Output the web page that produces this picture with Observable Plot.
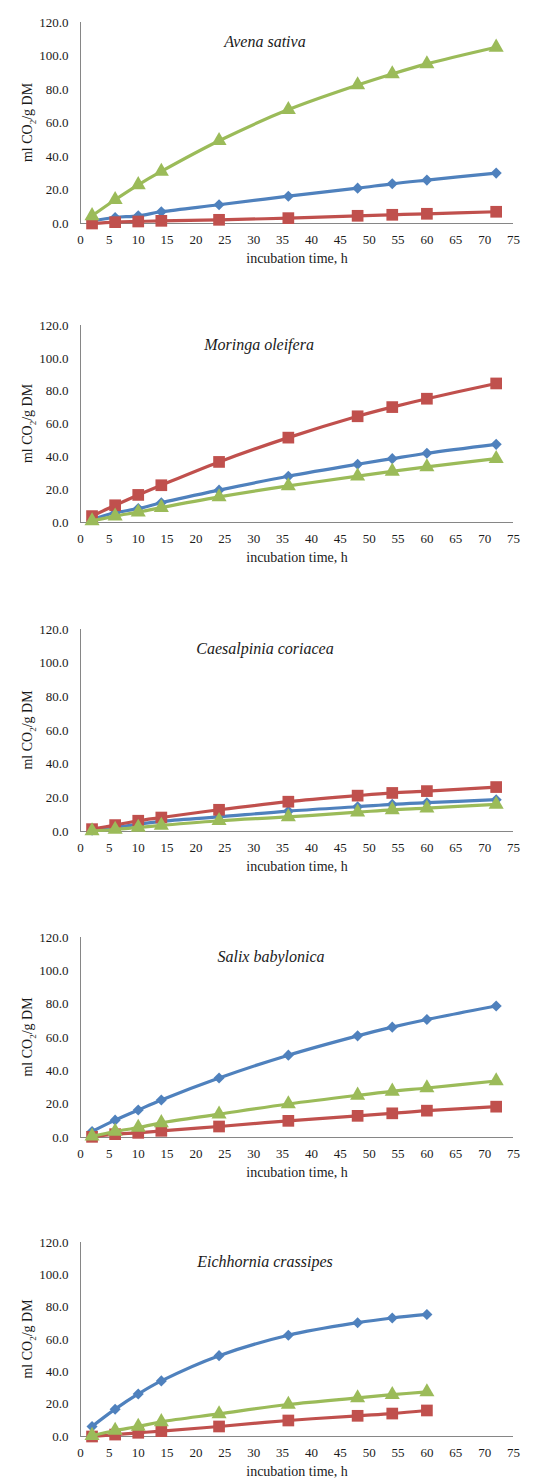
<!DOCTYPE html>
<html>
<head>
<meta charset="utf-8">
<script src="https://cdn.jsdelivr.net/npm/d3@7"></script>
<script src="https://cdn.jsdelivr.net/npm/@observablehq/plot@0.6"></script>
<style>
  html, body { margin: 0; padding: 0; background: #fff; }
  #root { position: relative; width: 556px; height: 1481px; overflow: hidden; background: #fff; }
  .panel { position: absolute; left: 0; }
  .panel svg text { font-family: 'Liberation Serif', 'Times New Roman', serif; }
</style>
</head>
<body>
<div id="root"></div>
<script>
// incubation times (h)
const times = [2, 6, 10, 14, 24, 36, 48, 54, 60, 72];
const timesShort = [2, 6, 10, 14, 24, 36, 48, 54, 60];

const xTicks = [0, 5, 10, 15, 20, 25, 30, 35, 40, 45, 50, 55, 60, 65, 70, 75];
const yTicks = [0, 20, 40, 60, 80, 100, 120];

const speciesNames = ["Avena sativa", "Moringa oleifera", "Caesalpinia coriacea", "Salix babylonica", "Eichhornia crassipes"];

// ml CO2 / g DM — blue (diamond), red (square), green (triangle)
const avenaBlue  = [1.6, 3.6, 4.6, 7.0, 11.2, 16.3, 21.1, 23.7, 25.9, 30.1];
const avenaRed   = [0.0, 0.8, 1.2, 1.6, 2.2, 3.2, 4.6, 5.2, 5.8, 7.0];
const avenaGreen = [4.6, 14.2, 23.1, 31.1, 49.4, 68.0, 82.7, 89.3, 95.3, 105.2];

const moringaBlue  = [1.8, 5.9, 8.5, 12.0, 19.7, 28.2, 35.5, 38.9, 42.2, 47.6];
const moringaRed   = [3.9, 10.5, 16.8, 22.7, 36.9, 51.7, 64.7, 70.3, 75.4, 84.7];
const moringaGreen = [1.0, 3.9, 6.3, 9.1, 15.6, 22.3, 28.2, 31.2, 33.9, 38.9];

const caesalpiniaBlue  = [0.8, 2.4, 4.4, 6.0, 8.7, 12.1, 14.7, 16.1, 17.1, 18.9];
const caesalpiniaRed   = [1.4, 3.8, 6.4, 8.3, 12.9, 17.7, 21.3, 22.9, 24.0, 26.4];
const caesalpiniaGreen = [0.3, 1.2, 2.4, 3.6, 6.4, 8.7, 11.5, 12.9, 13.9, 16.1];

const salixBlue  = [3.6, 10.4, 16.5, 22.5, 35.7, 49.4, 61.0, 66.2, 70.8, 78.9];
const salixRed   = [0.4, 2.0, 2.8, 4.0, 6.6, 10.0, 13.0, 14.5, 16.1, 18.5];
const salixGreen = [0.8, 3.6, 6.0, 8.8, 14.0, 20.1, 25.3, 27.7, 29.7, 33.9];

const eichhorniaBlue  = [6.2, 16.9, 26.3, 34.4, 50.0, 62.6, 70.4, 73.3, 75.5];
const eichhorniaRed   = [0.0, 1.2, 2.3, 3.3, 6.2, 9.9, 12.8, 14.2, 16.1];
const eichhorniaGreen = [0.6, 3.7, 6.2, 9.1, 14.0, 19.8, 23.9, 25.9, 27.6];

const seriesStyle = [
  {color: "#4F81BD", symbol: "diamond2", r: 5.0},
  {color: "#C0504D", symbol: "square", r: 6.6},
  {color: "#9BBB59", symbol: "triangle", r: 5.6}
];

const panels = [
  {title: speciesNames[0], t: times, series: [avenaBlue, avenaRed, avenaGreen], yTop: 22, yBot: 223, titleDx: -32},
  {title: speciesNames[1], t: times, series: [moringaBlue, moringaRed, moringaGreen], yTop: 325, yBot: 522, titleDx: -38},
  {title: speciesNames[2], t: times, series: [caesalpiniaBlue, caesalpiniaRed, caesalpiniaGreen], yTop: 629, yBot: 831, titleDx: -32},
  {title: speciesNames[3], t: times, series: [salixBlue, salixRed, salixGreen], yTop: 937, yBot: 1137, titleDx: -26},
  {title: speciesNames[4], t: timesShort, series: [eichhorniaBlue, eichhorniaRed, eichhorniaGreen], yTop: 1242, yBot: 1436, titleDx: -32}
];

const root = document.getElementById("root");
const mT = 22, mB = 45, mL = 80, mR = 43;
const textColor = "#1a1a1a";
const axisColor = "#868686";
const serif = "'Liberation Serif', 'Times New Roman', serif";

for (const p of panels) {
  const innerH = p.yBot - p.yTop;
  const marks = [
    Plot.axisX({ticks: xTicks, tickSize: 0, tickPadding: 11, tickFormat: d => String(d), label: null, fontSize: 13, fontFamily: serif, fill: textColor}),
    Plot.axisY({ticks: yTicks, tickSize: 0, tickPadding: 12, tickFormat: d => d.toFixed(1), label: null, fontSize: 13, fontFamily: serif, fill: textColor}),
    Plot.ruleY([0], {stroke: axisColor, strokeWidth: 1}),
    Plot.ruleX([0], {stroke: axisColor, strokeWidth: 1})
  ];
  p.series.forEach((vals, i) => {
    const data = p.t.map((t, j) => ({t, v: vals[j]}));
    const st = seriesStyle[i];
    marks.push(Plot.line(data, {x: "t", y: "v", stroke: st.color, strokeWidth: 3.2, curve: "catmull-rom"}));
    marks.push(Plot.dot(data, {x: "t", y: "v", symbol: () => st.symbol, fill: st.color, stroke: "none", r: st.r}));
  });
  marks.push(Plot.text([p.title], {frameAnchor: "top", dx: p.titleDx, dy: 13, text: d => d, fontStyle: "italic", fontSize: 16, fontFamily: serif, fill: textColor}));
  marks.push(Plot.text(["incubation time, h"], {frameAnchor: "bottom", dy: 39, text: d => d, fontSize: 14, fontFamily: serif, fill: textColor}));

  const plot = Plot.plot({
    width: 556,
    height: innerH + mT + mB,
    marginTop: mT, marginBottom: mB, marginLeft: mL, marginRight: mR,
    x: {type: "linear", domain: [0, 75]},
    y: {type: "linear", domain: [0, 120]},
    symbol: {type: "identity"},
    style: {fontFamily: serif, fontSize: "13px", color: textColor, background: "transparent", overflow: "visible"},
    marks
  });

  // y-axis label with subscript
  const svg = d3.select(plot);
  const lbl = svg.append("text")
    .attr("transform", `translate(27, ${mT + innerH / 2}) rotate(-90)`)
    .attr("text-anchor", "middle")
    .attr("dy", "0.35em")
    .attr("fill", textColor)
    .attr("font-size", 14)
    .attr("font-family", serif);
  lbl.append("tspan").text("ml CO");
  lbl.append("tspan").attr("font-size", 9).attr("dy", 4).text("2");
  lbl.append("tspan").attr("dy", -4).text("/g DM");

  const wrap = document.createElement("div");
  wrap.className = "panel";
  wrap.style.top = (p.yTop - mT) + "px";
  wrap.appendChild(plot);
  root.appendChild(wrap);
}
</script>
</body>
</html>
